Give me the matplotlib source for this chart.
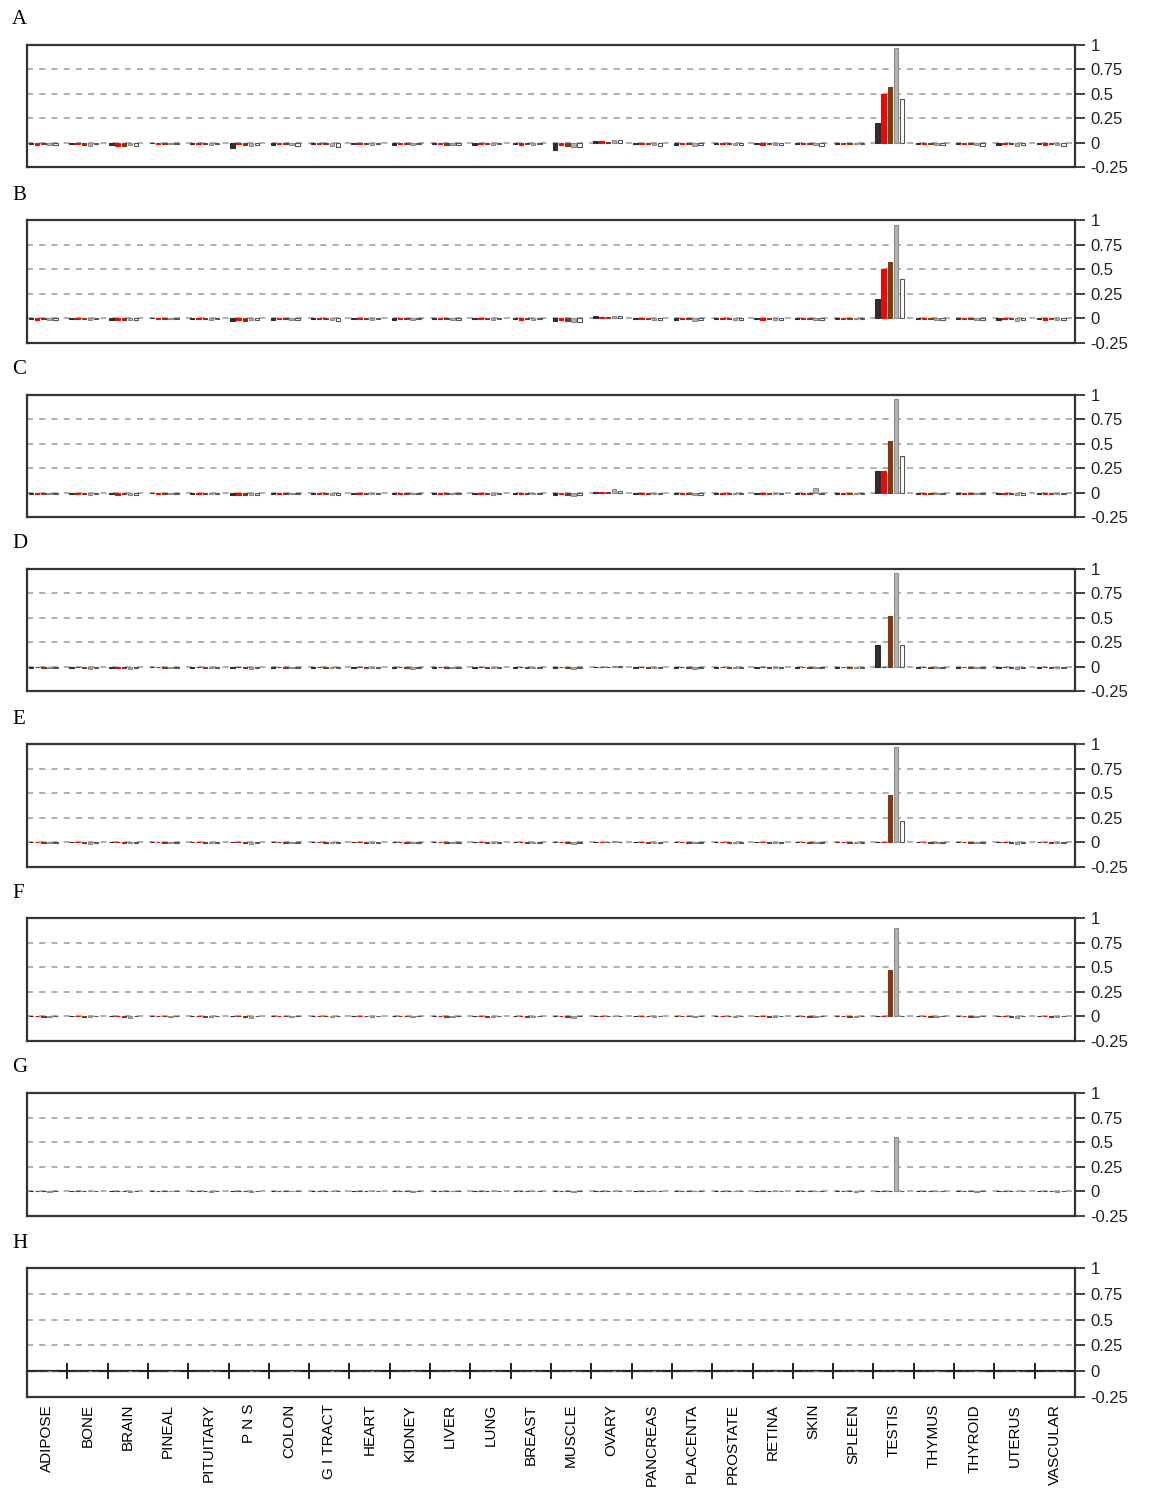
import numpy as np
import matplotlib
matplotlib.use("Agg")
import matplotlib.pyplot as plt

# tissues along the x axis
tissues = ["ADIPOSE", "BONE", "BRAIN", "PINEAL", "PITUITARY", "P N S", "COLON",
           "G I TRACT", "HEART", "KIDNEY", "LIVER", "LUNG", "BREAST", "MUSCLE",
           "OVARY", "PANCREAS", "PLACENTA", "PROSTATE", "RETINA", "SKIN", "SPLEEN",
           "TESTIS", "THYMUS", "THYROID", "UTERUS", "VASCULAR"]

panel_labels = ["A", "B", "C", "D", "E", "F", "G", "H"]
y_ticks = [1, 0.75, 0.5, 0.25, 0, -0.25]
y_tick_labels = ["1", "0.75", "0.5", "0.25", "0", "-0.25"]

# five series per tissue: dark, red, brown, light grey, open
a_dark  = [-0.01, -0.01, -0.02, 0.00, -0.01, -0.06, -0.02, -0.01, -0.01, -0.02, -0.01, -0.02, -0.01, -0.08, 0.02, -0.01, -0.02, -0.01, -0.01, -0.01, -0.01, 0.20, -0.01, -0.01, -0.02, -0.01]
a_red   = [-0.02, -0.01, -0.03, -0.01, -0.01, -0.01, -0.01, -0.01, -0.01, -0.01, -0.01, -0.01, -0.02, -0.02, 0.02, -0.01, -0.01, -0.01, -0.02, -0.01, -0.01, 0.50, -0.01, -0.01, -0.01, -0.02]
a_brown = [-0.01, -0.02, -0.03, -0.01, -0.01, -0.02, -0.01, -0.01, -0.01, -0.01, -0.02, -0.01, -0.01, -0.03, 0.01, -0.01, -0.01, -0.01, -0.01, -0.01, -0.01, 0.57, -0.01, -0.01, -0.01, -0.01]
a_grey  = [-0.02, -0.03, -0.02, -0.01, -0.02, -0.03, -0.02, -0.03, -0.02, -0.02, -0.02, -0.02, -0.02, -0.05, 0.03, -0.02, -0.03, -0.02, -0.02, -0.02, -0.01, 0.97, -0.02, -0.02, -0.03, -0.02]
a_open  = [-0.02, -0.01, -0.03, -0.01, -0.01, -0.02, -0.03, -0.04, -0.01, -0.01, -0.02, -0.01, -0.01, -0.05, 0.03, -0.03, -0.02, -0.02, -0.02, -0.03, -0.01, 0.45, -0.02, -0.03, -0.02, -0.03]

b_dark  = [-0.01, -0.01, -0.02, 0.00, -0.01, -0.03, -0.02, -0.01, -0.01, -0.02, -0.01, -0.01, -0.01, -0.03, 0.02, -0.01, -0.02, -0.01, -0.01, -0.01, -0.01, 0.20, -0.01, -0.01, -0.02, -0.01]
b_red   = [-0.02, -0.01, -0.02, -0.01, -0.01, -0.02, -0.01, -0.01, -0.01, -0.01, -0.01, -0.01, -0.02, -0.02, 0.01, -0.01, -0.01, -0.01, -0.02, -0.01, -0.01, 0.50, -0.01, -0.01, -0.01, -0.02]
b_brown = [-0.01, -0.01, -0.02, -0.01, -0.01, -0.03, -0.01, -0.01, -0.01, -0.01, -0.01, -0.01, -0.01, -0.03, 0.01, -0.01, -0.01, -0.01, -0.01, -0.01, -0.01, 0.57, -0.01, -0.01, -0.01, -0.01]
b_grey  = [-0.02, -0.02, -0.02, -0.01, -0.02, -0.02, -0.02, -0.02, -0.02, -0.02, -0.02, -0.02, -0.02, -0.04, 0.02, -0.02, -0.03, -0.02, -0.02, -0.02, -0.01, 0.95, -0.02, -0.02, -0.03, -0.02]
b_open  = [-0.02, -0.01, -0.02, -0.01, -0.01, -0.02, -0.02, -0.03, -0.01, -0.01, -0.02, -0.01, -0.01, -0.04, 0.02, -0.02, -0.02, -0.02, -0.02, -0.02, -0.01, 0.40, -0.02, -0.02, -0.02, -0.02]

c_dark  = [-0.01, -0.01, -0.01, 0.00, -0.01, -0.02, -0.01, -0.01, -0.01, -0.01, -0.01, -0.01, -0.01, -0.02, 0.01, -0.01, -0.01, -0.01, -0.01, -0.01, -0.01, 0.22, -0.01, -0.01, -0.01, -0.01]
c_red   = [-0.01, -0.01, -0.02, -0.01, -0.01, -0.02, -0.01, -0.01, -0.01, -0.01, -0.01, -0.01, -0.01, -0.01, 0.01, -0.01, -0.01, -0.01, -0.01, -0.01, -0.01, 0.22, -0.01, -0.01, -0.01, -0.01]
c_brown = [-0.01, -0.01, -0.01, -0.01, -0.01, -0.02, -0.01, -0.01, -0.01, -0.01, -0.01, -0.01, -0.01, -0.02, 0.01, -0.01, -0.01, -0.01, -0.01, -0.01, -0.01, 0.53, -0.01, -0.01, -0.01, -0.01]
c_grey  = [-0.01, -0.02, -0.02, -0.01, -0.01, -0.02, -0.01, -0.02, -0.01, -0.01, -0.01, -0.02, -0.01, -0.03, 0.04, -0.01, -0.02, -0.01, -0.01, 0.05, -0.01, 0.96, -0.01, -0.01, -0.02, -0.01]
c_open  = [-0.01, -0.01, -0.02, -0.01, -0.01, -0.02, -0.01, -0.02, -0.01, -0.01, -0.01, -0.01, -0.01, -0.02, 0.02, -0.01, -0.02, -0.01, -0.01, -0.01, -0.01, 0.38, -0.01, -0.01, -0.02, -0.01]

d_dark  = [-0.01, -0.01, -0.01, 0.00, -0.01, -0.01, -0.01, -0.01, -0.01, -0.01, -0.01, -0.01, -0.01, -0.01, 0.00, -0.01, -0.01, -0.01, -0.01, -0.01, -0.01, 0.22, -0.01, -0.01, -0.01, -0.01]
d_red   = [0.00, 0.00, -0.01, 0.00, 0.00, 0.00, 0.00, 0.00, 0.00, 0.00, 0.00, 0.00, 0.00, 0.00, 0.00, 0.00, 0.00, 0.00, 0.00, 0.00, 0.00, 0.00, 0.00, 0.00, 0.00, 0.00]
d_brown = [-0.01, -0.01, -0.01, -0.01, -0.01, -0.01, -0.01, -0.01, -0.01, -0.01, -0.01, -0.01, -0.01, -0.01, 0.00, -0.01, -0.01, -0.01, -0.01, -0.01, -0.01, 0.52, -0.01, -0.01, -0.01, -0.01]
d_grey  = [-0.01, -0.02, -0.02, -0.01, -0.01, -0.02, -0.01, -0.01, -0.01, -0.02, -0.01, -0.01, -0.01, -0.02, 0.01, -0.01, -0.02, -0.01, -0.01, -0.01, -0.01, 0.96, -0.01, -0.01, -0.02, -0.01]
d_open  = [-0.01, -0.01, -0.01, -0.01, -0.01, -0.01, -0.01, -0.01, -0.01, -0.01, -0.01, -0.01, -0.01, -0.01, 0.01, -0.01, -0.01, -0.01, -0.01, -0.01, -0.01, 0.22, -0.01, -0.01, -0.01, -0.01]

e_dark  = [0.00] * 26
e_red   = [0.00] * 26
e_brown = [-0.01, -0.01, -0.01, -0.01, -0.01, -0.01, -0.01, -0.01, -0.01, -0.01, -0.01, -0.01, -0.01, -0.01, 0.00, -0.01, -0.01, -0.01, -0.01, -0.01, -0.01, 0.48, -0.01, -0.01, -0.01, -0.01]
e_grey  = [-0.01, -0.02, -0.01, -0.01, -0.01, -0.02, -0.01, -0.01, -0.01, -0.01, -0.01, -0.01, -0.01, -0.02, 0.01, -0.01, -0.01, -0.01, -0.01, -0.01, -0.01, 0.97, -0.01, -0.01, -0.02, -0.01]
e_open  = [-0.01, -0.01, -0.01, -0.01, -0.01, -0.01, -0.01, -0.01, -0.01, -0.01, -0.01, -0.01, -0.01, -0.01, 0.00, -0.01, -0.01, -0.01, -0.01, -0.01, -0.01, 0.22, -0.01, -0.01, -0.01, -0.01]

f_dark  = [0.00] * 26
f_red   = [0.00] * 26
f_brown = [-0.01, -0.01, -0.01, 0.00, -0.01, -0.01, 0.00, 0.00, 0.00, 0.00, -0.01, -0.01, -0.01, -0.01, 0.00, 0.00, 0.00, 0.00, -0.01, -0.01, -0.01, 0.47, -0.01, -0.01, -0.01, -0.01]
f_grey  = [-0.01, -0.01, -0.02, -0.01, -0.01, -0.02, -0.01, -0.01, -0.01, -0.01, -0.01, -0.01, -0.01, -0.02, 0.00, -0.01, -0.01, -0.01, -0.01, -0.01, -0.01, 0.90, -0.01, -0.01, -0.02, -0.01]
f_open  = [0.00] * 26

g_dark  = [0.00] * 26
g_red   = [0.00] * 26
g_brown = [0.00] * 26
g_grey  = [-0.01, 0.00, -0.01, 0.00, -0.01, -0.01, 0.00, 0.00, 0.00, -0.01, 0.00, 0.00, 0.00, -0.01, 0.00, 0.00, 0.00, 0.00, 0.00, 0.00, -0.01, 0.55, 0.00, -0.01, 0.00, -0.01]
g_open  = [0.00] * 26

h_dark  = [0.00] * 26
h_red   = [0.00] * 26
h_brown = [0.00] * 26
h_grey  = [0.00] * 26
h_open  = [0.00] * 26

panels = [
    [a_dark, a_red, a_brown, a_grey, a_open],
    [b_dark, b_red, b_brown, b_grey, b_open],
    [c_dark, c_red, c_brown, c_grey, c_open],
    [d_dark, d_red, d_brown, d_grey, d_open],
    [e_dark, e_red, e_brown, e_grey, e_open],
    [f_dark, f_red, f_brown, f_grey, f_open],
    [g_dark, g_red, g_brown, g_grey, g_open],
    [h_dark, h_red, h_brown, h_grey, h_open],
]

# styles of the five series
faces = ["#2e2e2e", "#ff0000", "#7a3a12", "#b4b4b4", "#ffffff"]
edges = ["#2e2e2e", "#ff0000", "#7a3a12", "#8c8c8c", "#555555"]
offsets = [-0.40, -0.25, -0.09, 0.06, 0.21]
bar_w = 0.11

# panel boxes in pixels (top, bottom)
W, H = 1150, 1490
boxes = [(45, 167), (220, 343), (395, 517), (569, 691),
         (744, 867), (918, 1041), (1093, 1216), (1268, 1397)]
left_px, right_px = 27, 1075

fig = plt.figure(figsize=(W / 100, H / 100), dpi=100)
sans = ["Liberation Sans", "DejaVu Sans"]

x = np.arange(len(tissues)) + 0.5
for k, (top, bot) in enumerate(boxes):
    ax = fig.add_axes([left_px / W, 1 - bot / H, (right_px - left_px) / W, (bot - top) / H])
    ax.set_xlim(0, len(tissues))
    ax.set_ylim(-0.25, 1.0)

    last = k == len(boxes) - 1
    for yv in y_ticks[1:-1]:
        if yv == 0 and last:
            continue
        ax.axhline(yv, color="#9a9a9a", lw=1.1, ls=(0, (4, 4)), zorder=1)

    for s, vals in enumerate(panels[k]):
        ax.bar(x + offsets[s], vals, width=bar_w, color=faces[s],
               edgecolor=edges[s], linewidth=0.8, zorder=3)

    for sp in ax.spines.values():
        sp.set_linewidth(1.6)
        sp.set_color("#333333")

    ax.yaxis.tick_right()
    ax.set_yticks(y_ticks)
    ax.set_yticklabels(y_tick_labels, fontsize=12, family=sans)
    ax.tick_params(axis="y", direction="out", length=7, width=1.2, pad=4, colors="#222222")

    fig.text(12 / W, 1 - (top - 25) / H, panel_labels[k], fontsize=15,
             family=["Liberation Serif", "DejaVu Serif"], va="center", ha="left")

    if last:
        ax.set_xticks(x)
        ax.set_xticklabels(tissues, rotation=90, fontsize=11, family=sans,
                           va="top", ha="center")
        ax.tick_params(axis="x", length=0, pad=5)
        zero = ax.secondary_xaxis(0, transform=ax.transData)
        zero.set_xticks(np.arange(1, len(tissues)))
        zero.set_xticklabels([])
        zero.tick_params(direction="inout", length=12, width=1.4, colors="#222222")
        zero.spines["bottom"].set_linewidth(1.6)
        zero.spines["bottom"].set_color("#222222")
    else:
        ax.set_xticks([])

fig.savefig("out.png", dpi=100, facecolor="white")
